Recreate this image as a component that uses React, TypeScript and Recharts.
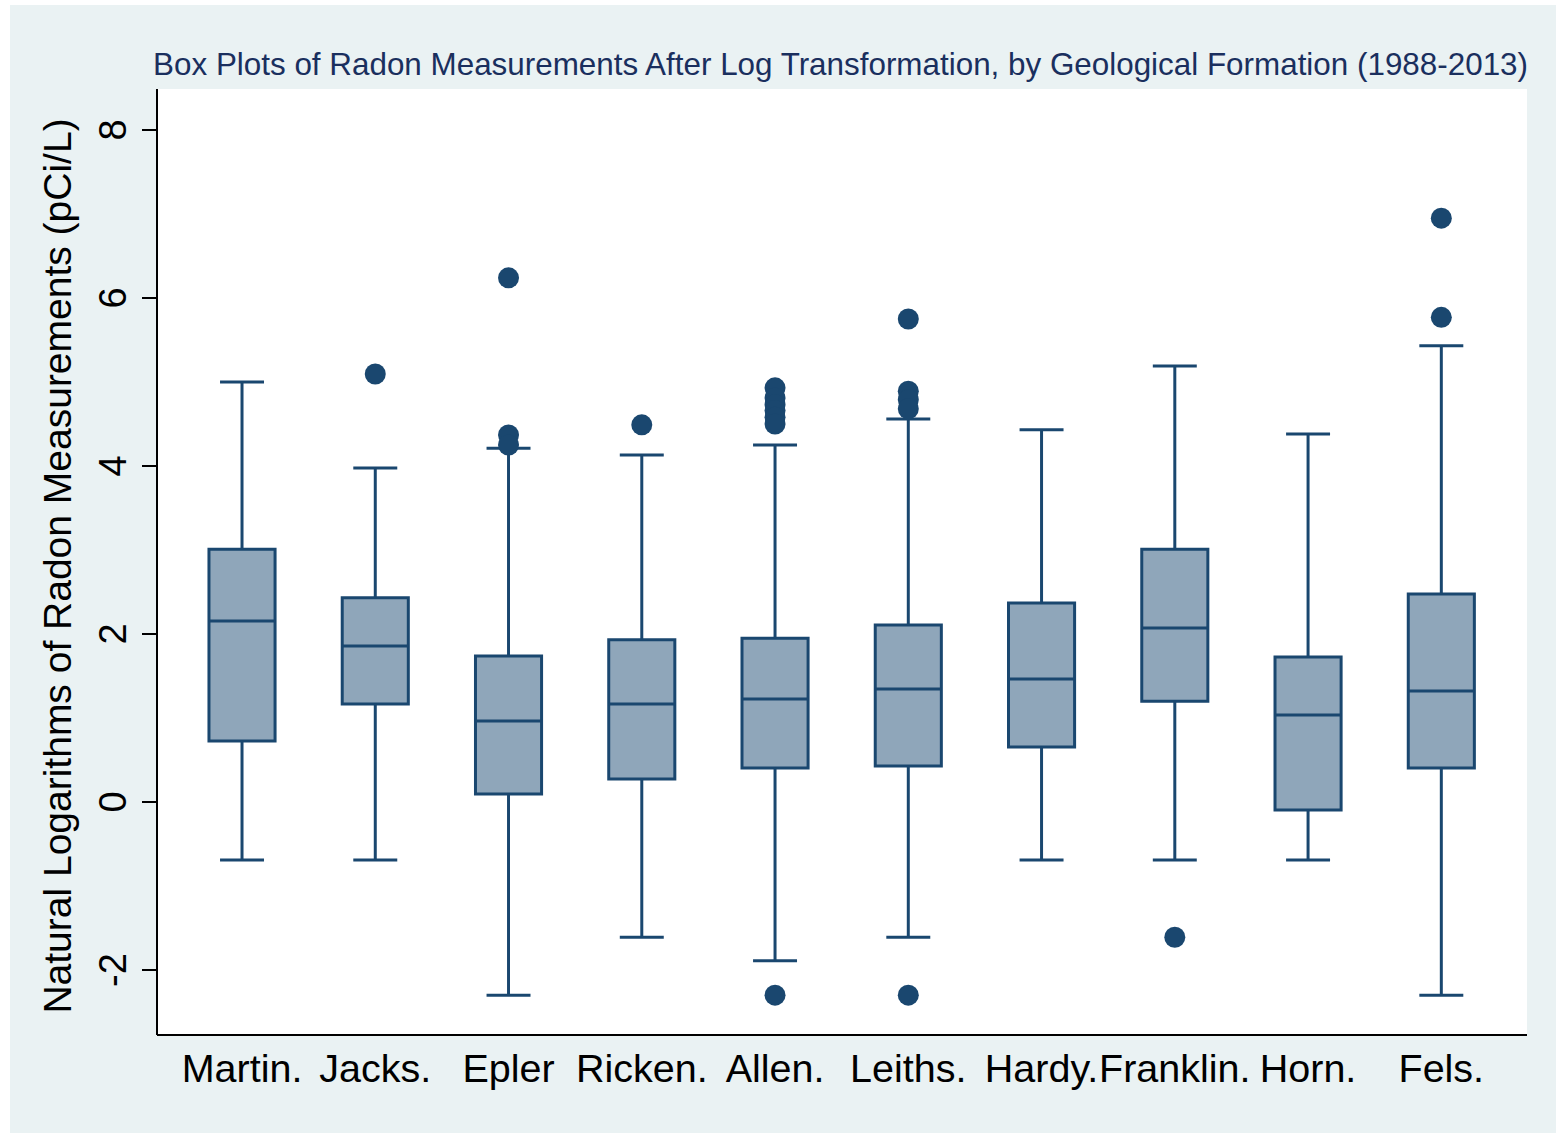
import React from "react";
import {
  ComposedChart, CartesianGrid, XAxis, YAxis, Scatter,
  ReferenceArea, ReferenceLine,
} from "recharts";

// values (log pCi/L)
const formations = ["Martin.", "Jacks.", "Epler", "Ricken.", "Allen.", "Leiths.", "Hardy.", "Franklin.", "Horn.", "Fels."];
const lowerWhisker = [-0.69, -0.69, -2.30, -1.61, -1.89, -1.61, -0.69, -0.69, -0.69, -2.30];
const q1 = [0.726, 1.167, 0.095, 0.274, 0.405, 0.429, 0.655, 1.20, -0.095, 0.405];
const median = [2.155, 1.857, 0.964, 1.167, 1.226, 1.345, 1.464, 2.07, 1.036, 1.32];
const q3 = [3.01, 2.43, 1.738, 1.93, 1.95, 2.107, 2.37, 3.01, 1.726, 2.476];
const upperWhisker = [5.0, 3.976, 4.21, 4.13, 4.25, 4.56, 4.43, 5.19, 4.38, 5.43];
const outliers: number[][] = [
  [],
  [5.095],
  [6.24, 4.37, 4.25],
  [4.49],
  [4.93, 4.81, 4.73, 4.66, 4.58, 4.50, -2.30],
  [5.75, 4.89, 4.79, 4.68, -2.30],
  [],
  [-1.61],
  [],
  [6.95, 5.77],
];
const yTicks = [-2, 0, 2, 4, 6, 8];

const NAVY = "#1A476F";
const FILL = "#8FA6BA";
const BG = "#EAF2F3";
const FONT = "'Liberation Sans', Arial, Helvetica, sans-serif";
const BOX_HALF = 0.248;
const CAP_HALF = 0.165;

const outlierPts = outliers.flatMap((vals, i) => vals.map((y) => ({ x: i + 1, y })));
const xTicks = formations.map((_, i) => i + 1);

function XTick(props: any) {
  const { x, y, payload } = props;
  return (
    <text x={x} y={y + 47} textAnchor="middle" fontSize={39.5} fontFamily={FONT} fill="#000">
      {formations[payload.value - 1]}
    </text>
  );
}

function YTick(props: any) {
  const { x, y, payload } = props;
  const bx = x - 16;
  return (
    <text x={bx} y={y} transform={`rotate(-90 ${bx} ${y})`} textAnchor="middle"
      fontSize={38} fontFamily={FONT} fill="#000">
      {payload.value}
    </text>
  );
}

function YLabel(props: any) {
  const vb = props.viewBox || { x: 57, y: 89, width: 100, height: 946 };
  const lx = vb.x + 14;
  const ly = vb.y + vb.height / 2 + 4;
  return (
    <text x={lx} y={ly} transform={`rotate(-90 ${lx} ${ly})`} textAnchor="middle"
      fontSize={39} fontFamily={FONT} fill="#000">
      Natural Logarithms of Radon Measurements (pCi/L)
    </text>
  );
}

export default function App() {
  return (
    <div style={{ position: "absolute", left: 0, top: 0, width: 1556, height: 1133, background: "#fff" }}>
      <div style={{ position: "absolute", left: 10, top: 5, width: 1546, height: 1128, background: BG }} />
      <div style={{ position: "absolute", left: 0, top: 0 }}>
        <ComposedChart width={1556} height={1133}
          margin={{ top: 89, right: 29, bottom: 38, left: 57 }}>
          <rect x={157} y={89} width={1370} height={946} fill="#fff" />
          <CartesianGrid vertical={false} stroke={BG} strokeWidth={2} fill="#fff" />
          <XAxis dataKey="x" type="number" domain={[0.362, 10.643]} ticks={xTicks}
            allowDataOverflow height={60} tickLine={false} tickSize={0} tickMargin={0}
            axisLine={{ stroke: "#000", strokeWidth: 2 }} tick={<XTick />} interval={0} />
          <YAxis dataKey="y" type="number" domain={[-2.774, 8.488]} ticks={yTicks}
            allowDataOverflow width={100} tickSize={15} tickMargin={0}
            tickLine={{ stroke: "#000", strokeWidth: 2 }}
            axisLine={{ stroke: "#000", strokeWidth: 2 }} tick={<YTick />}
            label={{ content: <YLabel /> }} />

          {formations.map((f, i) => (
            <ReferenceLine key={`wu-${f}`} segment={[{ x: i + 1, y: q3[i] }, { x: i + 1, y: upperWhisker[i] }]}
              stroke={NAVY} strokeWidth={3} ifOverflow="visible" />
          ))}
          {formations.map((f, i) => (
            <ReferenceLine key={`wl-${f}`} segment={[{ x: i + 1, y: lowerWhisker[i] }, { x: i + 1, y: q1[i] }]}
              stroke={NAVY} strokeWidth={3} ifOverflow="visible" />
          ))}
          {formations.map((f, i) => (
            <ReferenceLine key={`cu-${f}`} segment={[{ x: i + 1 - CAP_HALF, y: upperWhisker[i] }, { x: i + 1 + CAP_HALF, y: upperWhisker[i] }]}
              stroke={NAVY} strokeWidth={3} ifOverflow="visible" />
          ))}
          {formations.map((f, i) => (
            <ReferenceLine key={`cl-${f}`} segment={[{ x: i + 1 - CAP_HALF, y: lowerWhisker[i] }, { x: i + 1 + CAP_HALF, y: lowerWhisker[i] }]}
              stroke={NAVY} strokeWidth={3} ifOverflow="visible" />
          ))}
          {formations.map((f, i) => (
            <ReferenceArea key={`box-${f}`} x1={i + 1 - BOX_HALF} x2={i + 1 + BOX_HALF} y1={q1[i]} y2={q3[i]}
              fill={FILL} fillOpacity={1} stroke={NAVY} strokeWidth={3} ifOverflow="visible" />
          ))}
          {formations.map((f, i) => (
            <ReferenceLine key={`md-${f}`} segment={[{ x: i + 1 - BOX_HALF, y: median[i] }, { x: i + 1 + BOX_HALF, y: median[i] }]}
              stroke={NAVY} strokeWidth={3} ifOverflow="visible" />
          ))}

          <Scatter data={outlierPts} dataKey="y" isAnimationActive={false}
            shape={(p: any) => <circle cx={p.cx} cy={p.cy} r={10.5} fill={NAVY} />} />
        </ComposedChart>
      </div>
      <svg style={{ position: "absolute", left: 0, top: 0 }} width={1556} height={100}>
        <text x={1528} y={75} textAnchor="end" fontSize={31.4} fontFamily={FONT} fill="#1A2F5E">
          Box Plots of Radon Measurements After Log Transformation, by Geological Formation (1988-2013)
        </text>
      </svg>
    </div>
  );
}
